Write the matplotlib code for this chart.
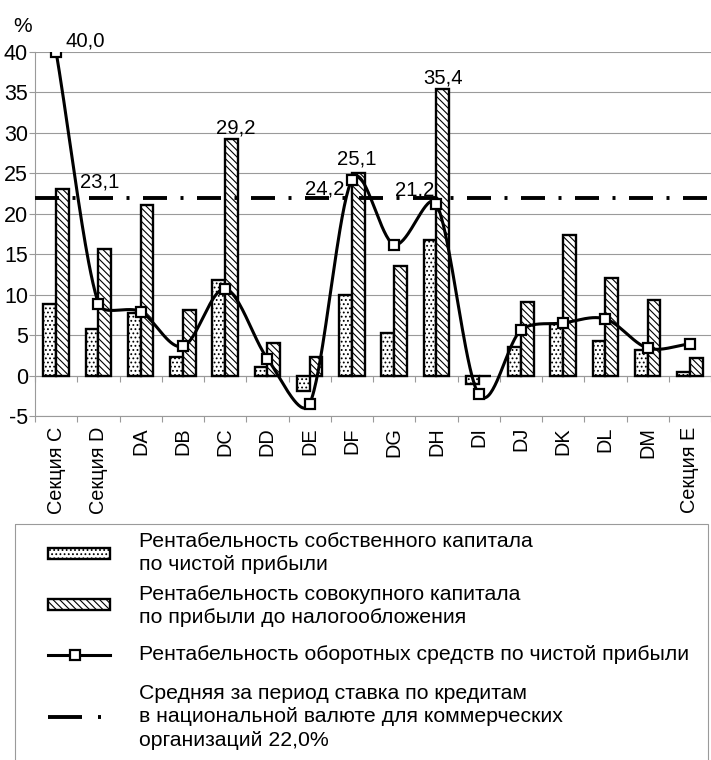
import matplotlib
matplotlib.use("Agg")
import matplotlib.pyplot as plt
import numpy as np
from matplotlib.patches import Rectangle
from matplotlib.lines import Line2D

plt.rcParams['font.family'] = ['Liberation Sans', 'DejaVu Sans']
plt.rcParams['hatch.linewidth'] = 0.8

CATEGORIES = ["Секция C", "Секция D", "DA", "DB", "DC", "DD", "DE", "DF",
              "DG", "DH", "DI", "DJ", "DK", "DL", "DM", "Секция E"]
# rentabelnost sobstvennogo kapitala (dotted bars)
EQUITY = [8.8, 5.8, 7.7, 2.3, 11.8, 1.1, -1.9, 10.0, 5.3, 16.7, -1.0, 3.5, 6.4, 4.3, 3.2, 0.5]
# rentabelnost sovokupnogo kapitala (hatched bars)
TOTAL = [23.1, 15.6, 21.1, 8.1, 29.2, 4.0, 2.3, 25.1, 13.6, 35.4, 0.0, 9.1, 17.4, 12.0, 9.3, 2.2]
# rentabelnost oborotnyh sredstv (line)
CURRENT = [40.0, 8.9, 7.9, 3.6, 10.7, 2.1, -3.5, 24.2, 16.2, 21.2, -2.3, 5.6, 6.5, 7.0, 3.4, 3.9]
LOAN_RATE = 22.0

YTICKS = [-5, 0, 5, 10, 15, 20, 25, 30, 35, 40]

LEGEND_TEXTS = [
    "Рентабельность собственного капитала\nпо чистой прибыли",
    "Рентабельность совокупного капитала\nпо прибыли до налогообложения",
    "Рентабельность оборотных средств по чистой прибыли",
    "Средняя за период ставка по кредитам\nв национальной валюте для коммерческих\nорганизаций 22,0%",
]

# (series, category index, offset x px, offset y px)
LABELS = [
    ("current", 0, 9, 11),
    ("total", 0, 37, 7),
    ("total", 4, 4, 11),
    ("total", 7, -1, 14),
    ("current", 7, -7, -9.5),
    ("current", 9, -2, 14.5),
    ("total", 9, 0, 11),
]

W, H, DPI = 711, 760, 100
GRAY = "#9a9a9a"
DOT_HATCH = "...."
LINE_HATCH = "\\\\\\\\\\"
BAR_LW = 1.7
LINE_LW = 2.2
MEAN_LW = 2.8
PT = 0.72  # points per pixel


def _arm(chord, seg_len):
    # bezier arm = 1/6 of the neighbour chord, kept short on short segments
    arm = chord / 6
    n = np.linalg.norm(arm)
    if n > seg_len / 3:
        arm = arm * (seg_len / 3) / n
    return arm


def smooth_px(pts, n=40):
    # excel-like smoothed line through the points, in screen space
    pts = np.asarray(pts, float)
    p = np.vstack([2 * pts[0] - pts[1], pts, 2 * pts[-1] - pts[-2]])
    t = np.linspace(0, 1, n)[:, None]
    out = []
    for i in range(len(pts) - 1):
        p0, p1, p2, p3 = p[i], p[i + 1], p[i + 2], p[i + 3]
        seg = np.linalg.norm(p2 - p1)
        c1 = p1 + _arm(p2 - p0, seg)
        c2 = p2 - _arm(p3 - p1, seg)
        out.append((1 - t)**3 * p1 + 3 * t * (1 - t)**2 * c1
                   + 3 * t**2 * (1 - t) * c2 + t**3 * p2)
    return np.vstack(out)


fig = plt.figure(figsize=(W / DPI, H / DPI), dpi=DPI)
ax = fig.add_axes([35 / W, (H - 416) / H, 676 / W, 364 / H])

x = np.arange(len(CATEGORIES))
ax.set_xlim(-0.5, len(CATEGORIES) - 0.5)
ax.set_ylim(-5, 40)

ax.bar(x - 0.15, EQUITY, 0.3, facecolor="white", edgecolor="black",
       hatch=DOT_HATCH, linewidth=BAR_LW, zorder=3)
ax.bar(x + 0.15, TOTAL, 0.3, facecolor="white", edgecolor="black",
       hatch=LINE_HATCH, linewidth=BAR_LW, zorder=3)

mean_line = ax.axhline(LOAN_RATE, color="black", linewidth=MEAN_LW, zorder=4,
                       dash_capstyle="butt")
mean_line.set_dashes([24 * PT / MEAN_LW, 13.5 * PT / MEAN_LW,
                      3 * PT / MEAN_LW, 13.5 * PT / MEAN_LW])

pts_px = ax.transData.transform(np.column_stack([x, CURRENT]))
curve = ax.transData.inverted().transform(smooth_px(pts_px))
ax.plot(curve[:, 0], curve[:, 1], color="black", linewidth=LINE_LW, zorder=5,
        solid_capstyle="round")
ax.plot(x, CURRENT, linestyle="none", marker="s", markersize=7.5,
        markerfacecolor="white", markeredgecolor="black", markeredgewidth=1.6,
        zorder=6)

series = {"current": (x, CURRENT), "total": (x + 0.15, TOTAL)}
for name, i, dx, dy in LABELS:
    xs, ys = series[name]
    ax.annotate(f"{ys[i]:.1f}".replace(".", ","), (xs[i], ys[i]),
                xytext=(dx * PT, dy * PT), textcoords="offset points",
                ha="center" if name == "total" else ("left" if dx > 0 else "right"),
                va="center", fontsize=14.6, zorder=7)

# axes styling
ax.set_yticks(YTICKS)
ax.set_yticklabels([str(v) for v in YTICKS])
ax.yaxis.grid(True, color=GRAY, linewidth=0.8, zorder=0)
ax.set_axisbelow(True)
for side in ("top", "right"):
    ax.spines[side].set_visible(False)
for side in ("left", "bottom"):
    ax.spines[side].set_color(GRAY)
    ax.spines[side].set_linewidth(0.8)
ax.tick_params(axis="y", colors=GRAY, labelcolor="black", length=4, width=0.8,
               pad=1, labelsize=15.5)

ax.set_xticks(x)
ax.set_xticklabels(CATEGORIES, rotation=90, fontsize=14.3)
ax.set_xticks(np.arange(len(CATEGORIES) + 1) - 0.5, minor=True)
ax.tick_params(axis="x", which="major", length=0, pad=8)
ax.tick_params(axis="x", which="minor", length=4, width=0.8, color=GRAY)

# category axis crossing at zero
zero_ax = ax.secondary_xaxis(5 / 45)
zero_ax.set_xticks(np.arange(len(CATEGORIES) + 1) - 0.5)
zero_ax.set_xticklabels([])
zero_ax.tick_params(length=4, width=0.8, color=GRAY)
zero_ax.spines["bottom"].set_color(GRAY)
zero_ax.spines["bottom"].set_linewidth(0.8)

fig.text(23 / W, 1 - 27 / H, "%", ha="center", va="center", fontsize=15)

# legend, drawn in pixel coordinates
lax = fig.add_axes([0, 0, 1, 1], facecolor="none")
lax.set_xlim(0, W)
lax.set_ylim(H, 0)
lax.set_axis_off()
lax.add_patch(Rectangle((15, 524), 693, 260, fill=False, edgecolor=GRAY,
                        linewidth=0.8))
lax.add_patch(Rectangle((48, 548), 62, 11, facecolor="white", edgecolor="black",
                        hatch=DOT_HATCH, linewidth=BAR_LW))
lax.add_patch(Rectangle((48, 599), 62, 11, facecolor="white", edgecolor="black",
                        hatch=LINE_HATCH, linewidth=BAR_LW))
lax.add_line(Line2D([48, 110], [655, 655], color="black", linewidth=LINE_LW))
lax.add_line(Line2D([75], [655], marker="s", markersize=7.5, markerfacecolor="white",
                    markeredgecolor="black", markeredgewidth=1.6))
leg_mean = Line2D([48, 110], [717, 717], color="black", linewidth=MEAN_LW,
                  dash_capstyle="butt")
leg_mean.set_dashes([34 * PT / MEAN_LW, 16 * PT / MEAN_LW,
                     3 * PT / MEAN_LW, 40 * PT / MEAN_LW])
lax.add_line(leg_mean)

for text, yc in zip(LEGEND_TEXTS, [553, 606, 655, 717]):
    lax.text(139, yc, text, ha="left", va="center", fontsize=15.3, linespacing=1.28)

fig.savefig("out.png", dpi=DPI)
